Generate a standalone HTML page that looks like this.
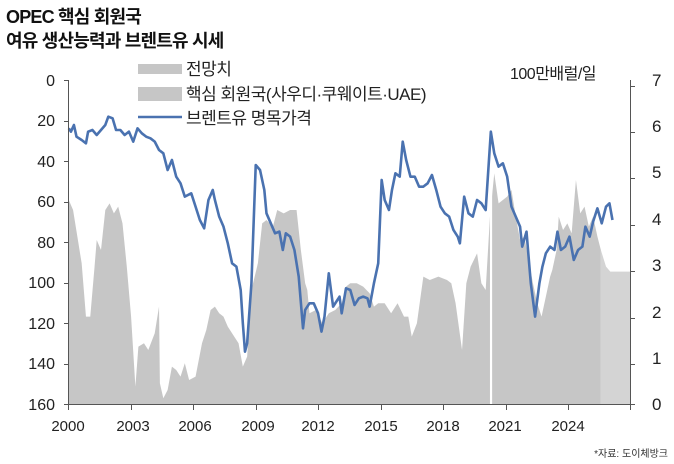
<!DOCTYPE html>
<html><head><meta charset="utf-8"><style>
body{margin:0;background:#fff;width:674px;height:464px;overflow:hidden;font-family:"Liberation Sans","Noto Sans CJK KR",sans-serif;}
.t{position:absolute;left:6px;font-weight:bold;font-size:18px;color:#111;letter-spacing:-0.8px}
</style></head><body>
<div class="t" style="top:3px">OPEC 핵심 회원국</div>
<div class="t" style="top:27px">여유 생산능력과 브렌트유 시세</div>
<svg width="674" height="464" style="position:absolute;left:0;top:0">
<g transform="translate(0,50) scale(0.4298,0.3333)">
<polygon fill="#c6c6c6" points="160,1063 160,450 170,480 180,560 190,640 200,800 210,800 220,650 225,570 235,600 245,480 255,460 265,490 275,470 285,520 295,650 305,800 315,1010 322,890 335,880 345,900 360,850 370,770 372,1000 380,1045 390,1020 400,950 410,960 420,980 430,940 440,990 455,980 470,880 480,840 490,780 500,770 510,790 520,800 530,830 545,860 555,880 565,950 575,920 585,720 600,640 610,520 620,510 635,530 645,480 660,490 675,480 690,480 700,600 710,700 715,720 720,790 735,780 750,820 765,790 780,780 795,760 805,710 815,700 830,700 845,710 860,730 870,770 880,760 895,760 910,790 925,760 940,800 950,800 958,860 970,820 985,680 1000,690 1020,680 1040,690 1050,700 1060,760 1075,900 1085,700 1095,650 1110,610 1120,700 1130,720 1140,500 1150,370 1160,460 1170,450 1180,440 1190,420 1200,500 1210,570 1220,560 1230,630 1240,700 1250,760 1260,800 1270,740 1280,680 1285,660 1295,600 1300,500 1310,540 1320,520 1330,550 1340,390 1350,490 1360,470 1370,530 1380,500 1390,560 1398,600 1398,1063"/>
<polygon fill="#d4d4d4" points="1398,1063 1398,600 1410,650 1420,665 1467,665 1467,1063"/>
<rect x="1140" y="300" width="5" height="763" fill="#fff"/>
<polyline fill="none" stroke="#4a72b0" stroke-width="2.6" vector-effect="non-scaling-stroke" stroke-linejoin="round" points="160,235 165,245 172,225 178,260 190,270 200,280 205,245 215,240 225,255 235,240 245,225 252,200 262,205 270,240 280,240 290,255 300,245 310,275 320,235 330,250 340,260 350,265 360,275 370,300 380,310 390,360 400,330 410,380 420,400 430,440 445,430 455,470 465,510 475,535 485,450 495,420 500,450 510,500 520,530 530,580 540,640 550,650 560,720 565,820 570,905 575,880 585,700 595,345 605,360 615,420 620,490 630,520 640,550 650,545 658,600 665,550 675,560 685,600 695,680 705,835 710,780 720,760 730,760 740,790 748,845 755,800 765,670 775,770 790,740 795,790 805,715 815,720 825,765 835,745 845,740 855,745 860,770 870,700 880,640 888,390 895,450 905,480 912,420 920,370 930,380 937,275 945,330 955,380 965,380 975,410 985,410 995,400 1005,375 1015,420 1025,470 1035,490 1045,500 1055,540 1065,560 1070,580 1080,440 1090,490 1100,500 1110,450 1120,460 1130,480 1142,245 1150,310 1160,350 1170,340 1180,380 1190,470 1200,500 1210,530 1215,590 1225,545 1235,700 1245,800 1255,700 1262,650 1270,610 1280,590 1290,600 1297,545 1305,600 1315,590 1325,560 1335,630 1345,600 1355,590 1362,530 1372,560 1380,515 1390,475 1400,520 1410,470 1418,460 1425,510"/>
</g>
<g stroke="#555" stroke-width="1">
<line x1="68.5" y1="80" x2="68.5" y2="405"/><line x1="68" y1="404.5" x2="630" y2="404.5"/><line x1="630.5" y1="80" x2="630.5" y2="405"/>
<path d="M64 80.5h4M64 121.5h4M64 161.5h4M64 202.5h4M64 242.5h4M64 283.5h4M64 323.5h4M64 364.5h4M64 404.5h4"/>
<path d="M630 86.5h5M630 132.5h5M630 178.5h5M630 225.5h5M630 271.5h5M630 318.5h5M630 364.5h5M630 404.5h5"/>
<path d="M68.5 405v5M131.5 405v5M193.5 405v5M256.5 405v5M318.5 405v5M381.5 405v5M443.5 405v5M506.5 405v5M568.5 405v5M630.5 405v5"/>
</g>
<g font-size="16" fill="#222" font-family="Liberation Sans,sans-serif" text-anchor="end">
<text x="55" y="86">0</text><text x="55" y="126">20</text><text x="55" y="167">40</text><text x="55" y="207">60</text><text x="55" y="248">80</text><text x="55" y="288">100</text><text x="55" y="329">120</text><text x="55" y="369">140</text><text x="55" y="410">160</text>
</g>
<g font-size="17" fill="#222" font-family="Liberation Sans,sans-serif">
<text x="652" y="86">7</text><text x="652" y="132">6</text><text x="652" y="178">5</text><text x="652" y="225">4</text><text x="652" y="271">3</text><text x="652" y="318">2</text><text x="652" y="364">1</text><text x="652" y="410">0</text>
</g>
<g font-size="15" fill="#222" font-family="Liberation Sans,sans-serif" text-anchor="middle">
<text x="68" y="431">2000</text><text x="133" y="431">2003</text><text x="195" y="431">2006</text><text x="258" y="431">2009</text><text x="318" y="431">2012</text><text x="381" y="431">2015</text><text x="443" y="431">2018</text><text x="505" y="431">2021</text><text x="568" y="431">2024</text>
</g>
<rect x="138" y="64" width="44" height="10" fill="#c6c6c6"/>
<rect x="138" y="87" width="44" height="14" fill="#c6c6c6"/>
<line x1="138" y1="117" x2="182" y2="117" stroke="#4a72b0" stroke-width="2.5"/>
<g font-size="17" fill="#222" font-family="Liberation Sans,Noto Sans CJK KR,sans-serif" letter-spacing="-0.5">
<text x="186" y="75">전망치</text>
<text x="186" y="100">핵심 회원국(사우디·쿠웨이트·UAE)</text>
<text x="186" y="124">브렌트유 명목가격</text>
<text x="510" y="79" font-size="16">100만배럴/일</text>
</g>
<text x="668" y="457" font-size="10" fill="#333" text-anchor="end" font-family="Liberation Sans,Noto Sans CJK KR,sans-serif">*자료: 도이체방크</text>
</svg>
</body></html>
